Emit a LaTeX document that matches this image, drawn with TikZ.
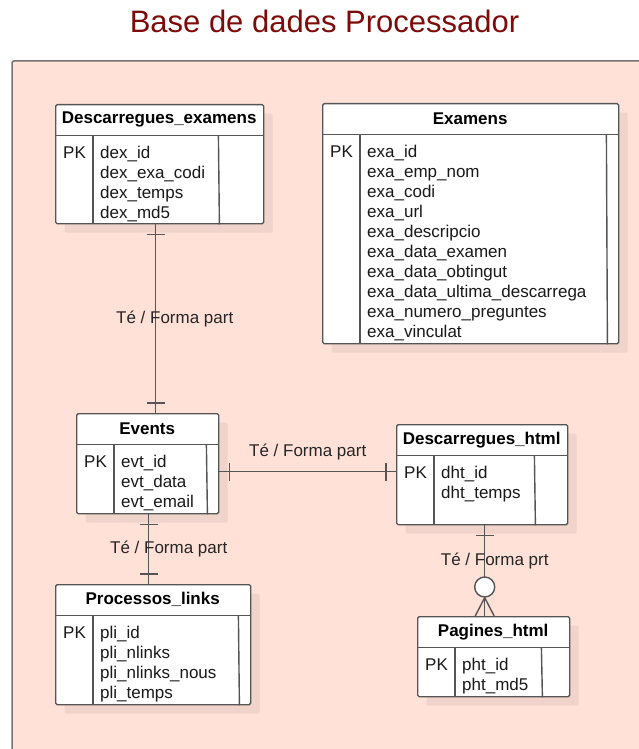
\documentclass[tikz,border=0pt]{standalone}
\usepackage{fontspec}
\setmainfont{Liberation Sans}
\usetikzlibrary{positioning}
\usetikzlibrary{shadows}
\usetikzlibrary{decorations.markings}
\usetikzlibrary{calc}

\definecolor{fons}{HTML}{FFE1D8}
\definecolor{ombra}{HTML}{F0D3CB}
\definecolor{linia}{HTML}{555555}
\definecolor{titolc}{HTML}{7F0A0A}

% taula: nom, cantonada, amplada, alcada, marge dret, titol, camps
\newcommand{\ertaula}[7]{%
    \node[taula, minimum width=#3, minimum height=#4, anchor=north west] (#1) at (#2) {};
    \node[capsal, minimum width=#3, anchor=north west] (#1-t) at (#1.north west) {#6};
    \draw[vora] (#1-t.south west) -- (#1-t.south east);
    \draw[vora] ([xshift=38pt]#1-t.south west) -- ([xshift=38pt]#1.south west);
    \draw[vora] ([xshift=-#5pt]#1-t.south east) -- ([xshift=-#5pt]#1.south east);
    \node[camp, anchor=base west] (#1-pk) at ([xshift=8pt,yshift=-23pt]#1-t.south west) {PK};
    \foreach \nomcamp [count=\i] in {#7}
        \node[camp, anchor=base west] (#1-\i) at ([xshift=45pt,yshift={-23pt-20pt*(\i-1)}]#1-t.south west) {\nomcamp};
}

\begin{document}
\begin{tikzpicture}[x=1pt, y=-1pt,
    taula/.style = {draw=linia, line width=1.4pt, fill=white, rounded corners=1.5pt, inner sep=0pt,
        drop shadow={opacity=1, fill=ombra, shadow xshift=9pt, shadow yshift=-9pt}},
    capsal/.style = {minimum height=31pt, inner sep=0pt, font=\fontsize{17}{20}\selectfont\bfseries},
    camp/.style = {inner sep=0pt, font=\fontsize{17}{20}\selectfont, text=black!90},
    vora/.style = {draw=linia, line width=1.4pt},
    rel/.style = {draw=linia, line width=1.4pt},
    etiq/.style = {inner sep=0pt, font=\fontsize{17}{20}\selectfont, text=black!85},
    unun/.style = {postaction=decorate, decoration={markings,
        mark=at position 10pt with {\draw[rel] (0,-9pt) -- (0,9pt);},
        mark=at position -10pt with {\draw[rel] (0,-9pt) -- (0,9pt);}}},
    un/.style = {postaction=decorate, decoration={markings,
        mark=at position 10pt with {\draw[rel] (0,-9pt) -- (0,9pt);}}}]

    \path[use as bounding box] (0,0) rectangle (639,749);
    \clip (0,0) rectangle (639,749);
    \draw[draw=black!55, line width=1.5pt, fill=fons, rounded corners=2pt] (12,61) rectangle (665,780);

    \node[font=\fontsize{31}{36}\selectfont, text=titolc, inner sep=0pt, anchor=base] (titol) at (324.5,33) {Base de dades Processador};

    \ertaula{desex}{55,104}{208}{119}{45}{Descarregues\_examens}{dex\_id, dex\_exa\_codi, dex\_temps, dex\_md5}
    \ertaula{exam}{322,103}{296}{240}{12}{Examens}{exa\_id, exa\_emp\_nom, exa\_codi, exa\_url, exa\_descripcio, exa\_data\_examen, exa\_data\_obtingut, exa\_data\_ultima\_descarrega, exa\_numero\_preguntes, exa\_vinculat}
    \ertaula{events}{76,413}{142}{100}{12}{Events}{evt\_id, evt\_data, evt\_email}
    \ertaula{deshtml}{396,424}{171}{100}{33}{Descarregues\_html}{dht\_id, dht\_temps}
    \ertaula{pagines}{417,616}{152}{80}{28}{Pagines\_html}{pht\_id, pht\_md5}
    \ertaula{proclinks}{55,584}{195}{120}{12}{Processos\_links}{pli\_id, pli\_nlinks, pli\_nlinks\_nous, pli\_temps}

    % relacions
    \draw[rel, unun] ([xshift=-4pt]desex.south) -- ([xshift=-4pt]desex.south |- events.north)
        node[etiq, midway, xshift=19pt] (rel-a) {Té / Forma part};
    \draw[rel, unun] ([yshift=-8pt]events.east) -- ([yshift=-8pt]events.east -| deshtml.west)
        node[etiq, midway, yshift=20pt] (rel-b) {Té / Forma part};
    \draw[rel, unun] ([xshift=1pt]events.south) -- ([xshift=1pt]events.south |- proclinks.north)
        node[etiq, midway, xshift=20pt] (rel-c) {Té / Forma part};
    \draw[rel, un] ([xshift=2.5pt]deshtml.south) -- ([xshift=2.5pt]deshtml.south |- pagines.north)
        node[etiq, pos=.39, xshift=10pt] (rel-d) {Té / Forma prt};
    \node[circle, draw=linia, line width=1.4pt, fill=white, minimum size=20pt, inner sep=0pt] (zero) at ([xshift=-9pt,yshift=29pt]pagines.north) {};
    \draw[rel] (zero.south) -- ([xshift=-18.5pt]pagines.north);
    \draw[rel] (zero.south) -- ([xshift=0.5pt]pagines.north);
\end{tikzpicture}
\end{document}
